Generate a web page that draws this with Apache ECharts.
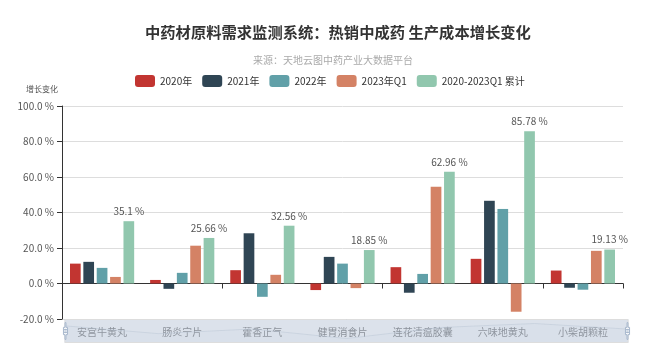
<!DOCTYPE html>
<html>
<head>
<meta charset="utf-8">
<script src="https://cdn.jsdelivr.net/npm/echarts@6/dist/echarts.min.js"></script>
<style>
html,body{margin:0;padding:0;background:#fff;}
#main{width:646px;height:359px;}
</style>
</head>
<body>
<div id="main"></div>
<script>
var categories = ['安宫牛黄丸', '肠炎宁片', '藿香正气', '健胃消食片', '连花清瘟胶囊', '六味地黄丸', '小柴胡颗粒'];
var seriesNames = ['2020年', '2021年', '2022年', '2023年Q1', '2020-2023Q1 累计'];
var v2020 = [11.2, 2.0, 7.5, -3.7, 9.2, 13.9, 7.3];
var v2021 = [12.2, -3.0, 28.3, 15.0, -5.2, 46.6, -2.4];
var v2022 = [8.8, 6.0, -7.5, 11.2, 5.4, 42.0, -3.5];
var v2023Q1 = [3.7, 21.3, 4.9, -2.6, 54.5, -15.9, 18.4];
var vTotal = [35.1, 25.66, 32.56, 18.85, 62.96, 85.78, 19.13];
var yTicks = [-20, 0, 20, 40, 60, 80, 100];

var colors = ['#c23531', '#2f4554', '#61a0a8', '#d48265', '#91c7ae'];
var font = "'Microsoft YaHei', 'Noto Sans CJK SC', sans-serif";
var allValues = [v2020, v2021, v2022, v2023Q1, vTotal];

var chart = echarts.init(document.getElementById('main'));
var series = seriesNames.map(function (name, i) {
  var s = {
    name: name,
    type: 'bar',
    xAxisIndex: 0,
    data: allValues[i],
    barWidth: 10.7,
    barGap: '25%',
    itemStyle: { color: colors[i] }
  };
  if (i === 4) {
    s.label = {
      show: true,
      position: 'top',
      distance: 5,
      color: '#555',
      fontSize: 10,
      fontFamily: font,
      formatter: function (p) { return p.value + ' %'; }
    };
  }
  return s;
});

chart.setOption({
  animation: false,
  color: colors,
  textStyle: { fontFamily: font },
  title: [
    {
      text: '中药材原料需求监测系统：热销中成药 生产成本增长变化',
      left: 140, top: 20,
      textStyle: { fontSize: 15.3, fontWeight: 'bold', color: '#333', fontFamily: font }
    },
    {
      text: '来源：天地云图中药产业大数据平台',
      left: 248, top: 50,
      textStyle: { fontSize: 10, fontWeight: 'normal', color: '#aaa', fontFamily: font }
    }
  ],
  legend: {
    data: seriesNames,
    left: 130, top: 70,
    itemWidth: 20, itemHeight: 12, itemGap: 10,
    textStyle: { fontSize: 10, color: '#333', fontFamily: font }
  },
  grid: { left: 62, right: 23, top: 106, bottom: 40, containLabel: false },
  xAxis: [
    {
      type: 'category',
      data: categories,
      position: 'bottom',
      axisLine: { onZero: true, lineStyle: { color: '#333' } },
      axisTick: { show: true, length: 5, lineStyle: { color: '#333' } },
      axisLabel: { show: false },
      splitLine: { show: false }
    },
    {
      type: 'category',
      data: categories,
      position: 'bottom',
      axisLine: { show: false, onZero: false },
      axisTick: { show: false },
      axisLabel: { show: true, color: '#777', fontSize: 10, margin: 8, fontFamily: font, interval: 0 },
      splitLine: { show: false }
    }
  ],
  yAxis: {
    type: 'value',
    min: yTicks[0], max: yTicks[yTicks.length - 1], interval: 20,
    name: '增长变化',
    nameLocation: 'end',
    nameGap: 13,
    nameTextStyle: { color: '#555', fontSize: 8, align: 'right', padding: [0, 4, 0, 0], fontFamily: font },
    axisLine: { show: true, lineStyle: { color: '#333' } },
    axisTick: { show: true, length: 5, lineStyle: { color: '#333' } },
    axisLabel: {
      color: '#555', fontSize: 10, margin: 8, fontFamily: font,
      formatter: function (v) { return v.toFixed(1) + ' %'; }
    },
    splitLine: { show: true, lineStyle: { color: '#ddd' } }
  },
  dataZoom: [{
    type: 'slider',
    xAxisIndex: [0, 1],
    start: 0, end: 100,
    left: 62, right: 20, bottom: 16, height: 24,
    showDetail: false,
    brushSelect: false,
    moveHandleSize: 0,
    backgroundColor: 'rgba(47,69,84,0)',
    borderColor: '#ddd',
    fillerColor: 'rgba(167,183,204,0.4)',
    handleIcon: 'path://M8.2,13.6V3.9H6.3v9.7H3.1v14.9h3.3v9.7h1.8v-9.7h3.3V13.6H8.2z M9.7,24.4H4.8v-1.4h4.9V24.4z M9.7,19.1H4.8v-1.4h4.9V19.1z',
    handleSize: '70%',
    handleStyle: { color: '#fff', borderColor: '#a7b7cc' },
    dataBackground: {
      lineStyle: { color: '#c7d0db', width: 0.5 },
      areaStyle: { color: 'rgba(200,210,222,0.3)' }
    },
    selectedDataBackground: {
      lineStyle: { color: '#c7d0db', width: 0.5 },
      areaStyle: { color: 'rgba(200,210,222,0.3)' }
    },
    textStyle: { color: '#333' }
  }],
  series: series
});
</script>
</body>
</html>
